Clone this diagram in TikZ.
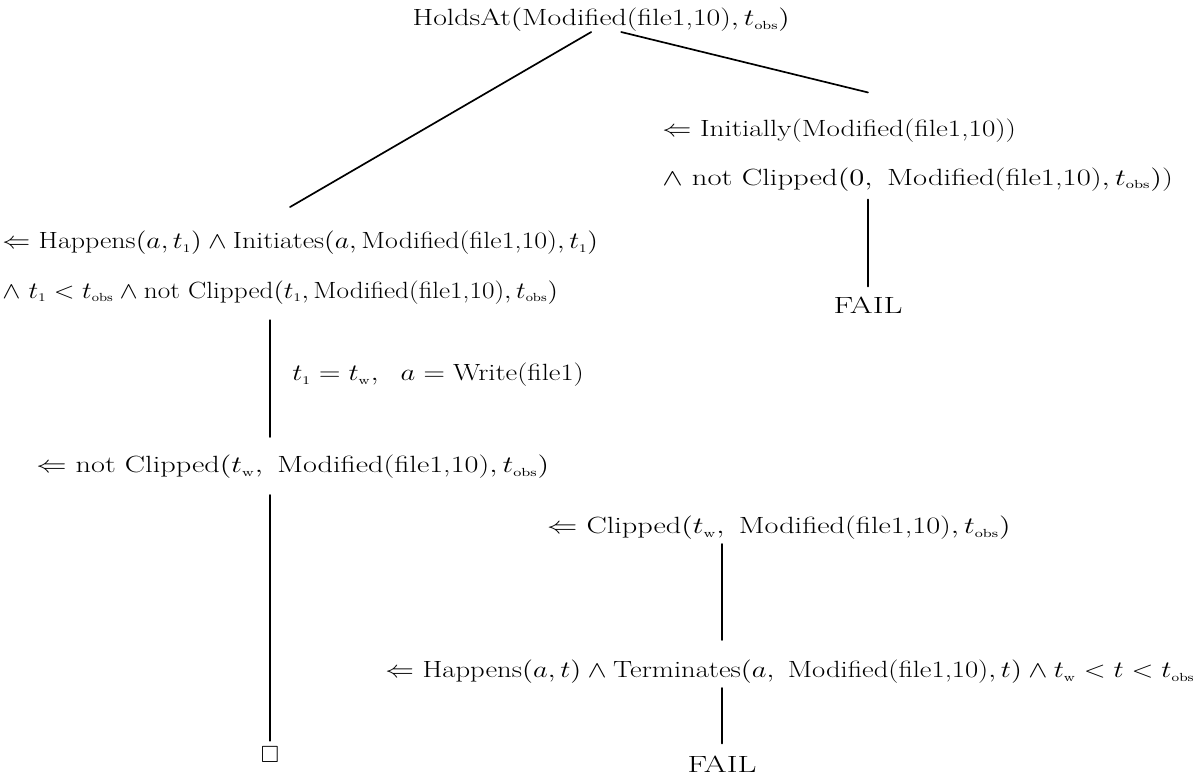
\RequirePackage{fix-cm}
\documentclass[tikz,border=0pt]{standalone}
\usepackage{amsmath,amssymb}
\usepackage{tikz}
\usetikzlibrary{positioning,calc}

\newcommand{\tobs}{t_{\scriptscriptstyle\mathrm{obs}}}
\newcommand{\tw}{t_{\scriptscriptstyle\mathrm{w}}}
\newcommand{\tone}{t_{\scriptscriptstyle 1}}
\newcommand{\mf}{\text{Modified(file1,10)}}
\newcommand{\gl}[2][1.27]{\scalebox{#1}[1]{#2}}

\tikzset{
  sld/goal/.style={inner sep=0pt, align=left, font=\fontsize{16.7pt}{34.9pt}\selectfont},
  sld/subst/.style={sld/goal},
  sld/leaf/.style={sld/goal, align=center},
  sld/edge/.style={line width=1.2pt}
}

\begin{document}
\begin{tikzpicture}[x=1cm,y=1cm, line cap=round, line join=round]
\useasboundingbox (0,0) rectangle (30,-19.45);

% root goal
\node[sld/goal] (root) at (15.03,-0.5) {\gl{HoldsAt$\left(\mf,\tobs\right)$}};

% right branch: initially
\node[sld/goal, anchor=west] (init) at (16.55,-3.875)
  {\gl[1.24]{$\Leftarrow$ Initially(Modified(file1,10))}\\
   \gl[1.305]{$\wedge$ not Clipped$\left(0,\ \mf,\tobs\right)$)}};
\node[sld/leaf] (fail1) at (21.7,-7.625) {\gl[1.4]{FAIL}};

% left branch: happens / initiates
\node[sld/goal, anchor=west] (happ) at (0.05,-6.69)
  {\gl[1.19]{$\Leftarrow$ Happens$\left(a,\tone\right)\wedge{}$Initiates$\left(a,\mf,\tone\right)$}\\
   \gl[1.16]{$\wedge\ \tone<\tobs\wedge{}$not Clipped$\left(\tone,\mf,\tobs\right)$}};
\node[sld/subst, anchor=west] (subst) at (7.3,-9.375) {\gl[1.22]{$\tone=\tw,\ \ a=\text{Write(file1)}$}};
\node[sld/goal, anchor=west] (notclip) at (0.9,-11.675)
  {\gl[1.29]{$\Leftarrow$ not Clipped$\left(\tw,\ \mf,\tobs\right)$}};
\node[sld/leaf] (empty) at (6.75,-18.875) {$\Box$};

% negation subtree
\node[sld/goal, anchor=west] (clip) at (13.67,-13.2)
  {\gl[1.29]{$\Leftarrow$ Clipped$\left(\tw,\ \mf,\tobs\right)$}};
\node[sld/goal, anchor=west] (term) at (9.625,-16.8)
  {\gl[1.22]{$\Leftarrow$ Happens$\left(a,t\right)\wedge{}$Terminates$\left(a,\ \mf,t\right)\wedge\tw<t<\tobs$}};
\node[sld/leaf] (fail2) at (18.05,-19.1) {\gl[1.4]{FAIL}};

% edges
\draw[sld/edge] ([xshift=-0.25cm]root.south) -- ([yshift=0.6cm]happ.north -| 7.25,0);
\draw[sld/edge] ([xshift=0.5cm]root.south) -- ([yshift=0.65cm]init.north -| fail1);
\draw[sld/edge, shorten <=2mm, shorten >=2.5mm] (init.south -| fail1) -- (fail1.north);
\draw[sld/edge, shorten <=4mm, shorten >=4.5mm] (happ.south -| empty) -- (notclip.north -| empty);
\draw[sld/edge, shorten <=4mm, shorten >=1.5mm] (notclip.south -| empty) -- (empty.north);
\draw[sld/edge, shorten <=1mm, shorten >=5mm] (clip.south -| fail2) -- (term.north -| fail2);
\draw[sld/edge, shorten <=1mm, shorten >=3mm] (term.south -| fail2) -- (fail2.north);
\end{tikzpicture}
\end{document}
